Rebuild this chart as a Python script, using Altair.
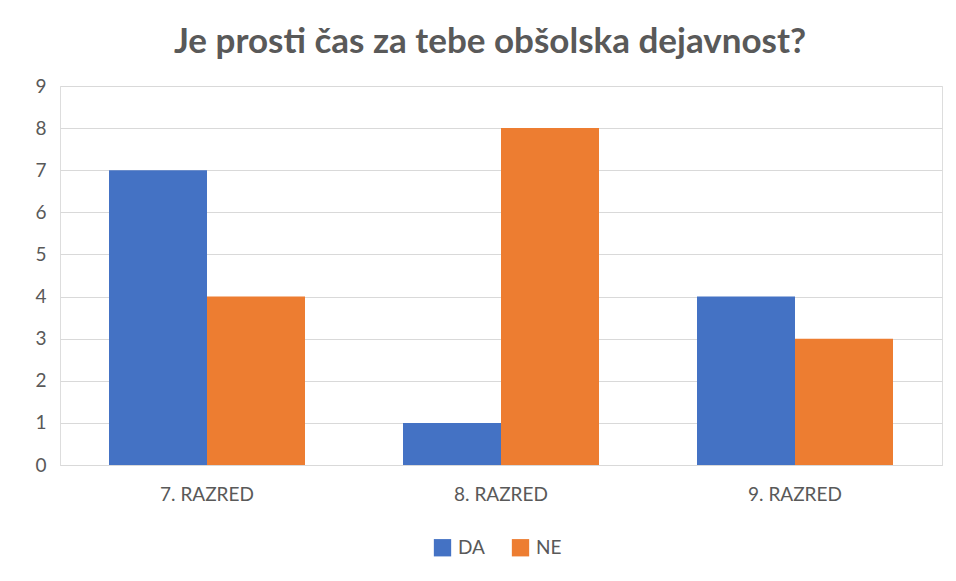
import altair as alt
import pandas as pd

categories = ["7. RAZRED", "8. RAZRED", "9. RAZRED"]
series_names = ["DA", "NE"]
da_values = [7, 1, 4]
ne_values = [4, 8, 3]
colors = ["#4472C4", "#ED7D31"]
y_ticks = list(range(0, 10))

rows = []
for c, d, n in zip(categories, da_values, ne_values):
    rows.append({"razred": c, "odgovor": "DA", "vrednost": d})
    rows.append({"razred": c, "odgovor": "NE", "vrednost": n})
df = pd.DataFrame(rows)

FONT = "Lato"
GREY = "#595959"

chart = alt.Chart(df).mark_bar().encode(
    x=alt.X("razred:N", sort=categories, title=None,
            scale=alt.Scale(paddingInner=1/3, paddingOuter=1/6),
            axis=alt.Axis(labelAngle=0, ticks=False, domainColor="#D9D9D9",
                          labelColor=GREY, labelFontSize=19, labelFont=FONT,
                          labelPadding=20, grid=False)),
    xOffset=alt.XOffset("odgovor:N", sort=series_names),
    y=alt.Y("vrednost:Q", title=None,
            scale=alt.Scale(domain=[0, 9], nice=False),
            axis=alt.Axis(values=y_ticks, ticks=False, domain=False,
                          gridColor="#D9D9D9", gridWidth=1.2,
                          labelColor=GREY, labelFontSize=19, labelFont=FONT,
                          labelPadding=14)),
    color=alt.Color("odgovor:N", sort=series_names,
                    scale=alt.Scale(domain=series_names, range=colors),
                    legend=alt.Legend(title=None, orient="none", direction="horizontal",
                                      legendX=373, legendY=452,
                                      symbolType="square", symbolSize=300,
                                      symbolOpacity=1,
                                      labelFontSize=19, labelColor=GREY, labelFont=FONT,
                                      columnPadding=26, labelOffset=6)),
).properties(
    width=882,
    height=379,
    title=alt.TitleParams("Je prosti čas za tebe obšolska dejavnost?",
                          font=FONT, fontSize=35, fontWeight="bold", color=GREY,
                          anchor="middle", offset=17, dx=-11),
    autosize=alt.AutoSizeParams(type="none"),
    padding={"left": 52, "top": 78, "right": 6, "bottom": 105},
).configure_view(stroke=None).configure(background="white")

chart.save("out.html", embed_options={"renderer": "svg", "actions": False})
